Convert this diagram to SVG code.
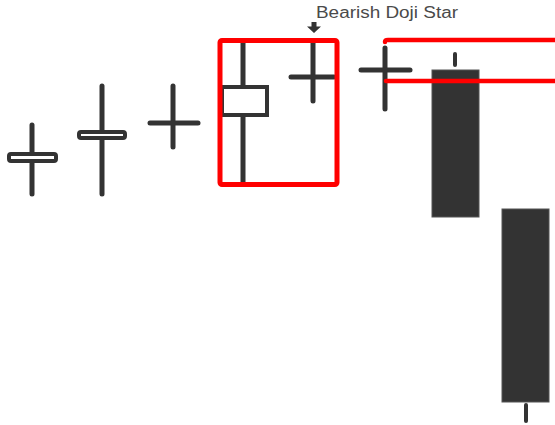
<svg xmlns="http://www.w3.org/2000/svg" width="555" height="425" viewBox="0 0 555 425">
<style>
.w{stroke:#333;stroke-width:5;stroke-linecap:round;fill:none}
.hb{stroke:#333;stroke-width:4;fill:#fff}
.fb{fill:#333;stroke:#555;stroke-width:1}
.red{stroke:#ff0000;stroke-width:5;fill:none;stroke-linecap:round;stroke-linejoin:round}
.lbl{font-family:"Liberation Sans",Arial,sans-serif;font-size:16px;fill:#4a4a4a}
</style>
<rect width="555" height="425" fill="#fff"/>
<g id="candle1">
<line class="w" x1="32" y1="125" x2="32" y2="194"/>
<rect class="hb" x="9" y="154" width="47" height="7" rx="2"/>
</g>
<g id="candle2">
<line class="w" x1="102" y1="86" x2="102" y2="194"/>
<rect class="hb" x="79" y="132" width="46" height="6" rx="2"/>
</g>
<g id="candle3">
<line class="w" x1="173" y1="86" x2="173" y2="147"/>
<line class="w" x1="150" y1="123" x2="198" y2="123"/>
</g>
<g id="candle4">
<line class="w" x1="243" y1="42" x2="243" y2="183"/>
<rect class="hb" x="222" y="87" width="45" height="28"/>
</g>
<g id="candle5">
<line class="w" x1="313" y1="42" x2="313" y2="101"/>
<line class="w" x1="291" y1="77" x2="334" y2="77"/>
</g>
<g id="candle6">
<line class="w" x1="385" y1="48" x2="385" y2="109"/>
<line class="w" x1="361" y1="70" x2="410" y2="70"/>
</g>
<g id="candle7">
<line class="w" x1="455" y1="54" x2="455" y2="65" style="stroke-width:4"/>
<rect class="fb" x="432" y="70" width="47" height="147"/>
</g>
<g id="candle8">
<line class="w" x1="526" y1="405" x2="526" y2="421" style="stroke-width:4"/>
<rect class="fb" x="502" y="209" width="47" height="193"/>
</g>
<g id="highlights">
<rect class="red" x="220" y="40.5" width="117" height="144" rx="2"/>
<path class="red" d="M385 42 Q385 40 388 40 L560 40" style="stroke-width:4.5"/>
<line class="red" x1="386" y1="81" x2="560" y2="81" style="stroke-width:4.5"/>
</g>
<g id="label">
<text class="lbl" x="316" y="17.5" textLength="142" lengthAdjust="spacingAndGlyphs">Bearish Doji Star</text>
<path d="M311.5 22 L316.5 22 L316.5 26.5 L321 26.5 L314 33 L307 26.5 L311.5 26.5 Z" fill="#333"/>
</g>
</svg>
